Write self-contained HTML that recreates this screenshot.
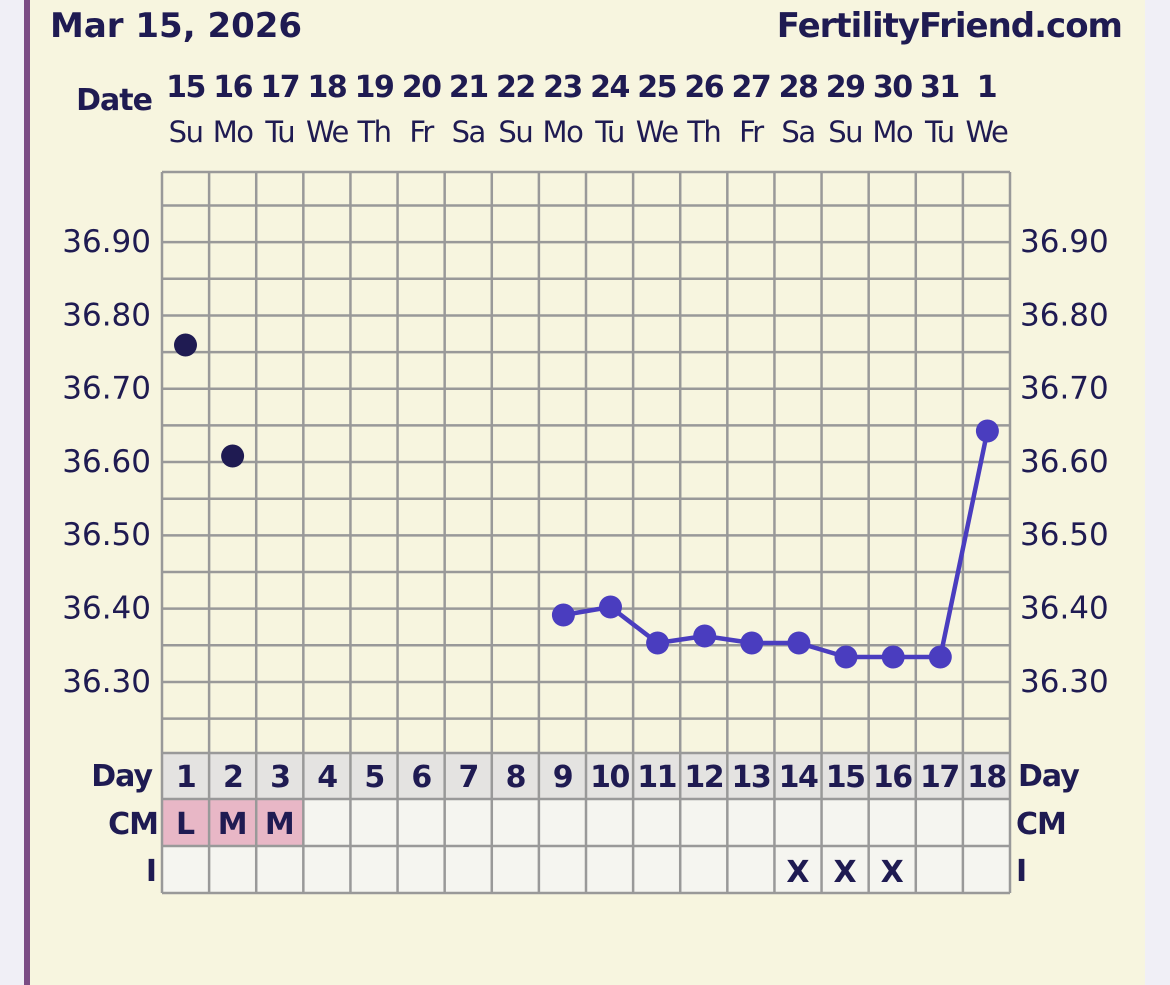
<!DOCTYPE html>
<html><head><meta charset="utf-8"><style>
html,body{margin:0;padding:0;background:#f0eff6;}
svg{display:block}
</style></head><body>
<svg width="1170" height="985" xmlns="http://www.w3.org/2000/svg" font-family="'DejaVu Sans','Liberation Sans',sans-serif">
<rect x="0" y="0" width="1170" height="985" fill="#f0eff6"/>
<rect x="29" y="0" width="1116" height="985" fill="#f7f5df"/>
<rect x="24" y="0" width="6" height="985" fill="#7b4c84"/>
<text x="50" y="37" font-size="34" font-weight="bold" fill="#1f1b52">Mar 15, 2026</text>
<text x="1122" y="37" font-size="34" font-weight="bold" fill="#1f1b52" text-anchor="end" letter-spacing="-1">FertilityFriend.com</text>
<text x="152" y="110" font-size="30" font-weight="bold" fill="#1f1b52" text-anchor="end" letter-spacing="-1">Date</text>
<g id="cols"></g>
<rect x="162" y="753" width="848" height="46" fill="#e4e3e1"/>
<rect x="162" y="799" width="848" height="94" fill="#f5f5f0"/>
<rect x="162" y="799" width="141" height="47" fill="#e8b7c6"/>
<g stroke="#999" stroke-width="2.5" fill="none" id="grid"></g>
<polyline points="563.4,615 610.5,607 657.6,643 704.7,636 751.8,643 798.9,643 846,657 893.2,657 940.3,657 987.4,431" fill="none" stroke="#4a3dbf" stroke-width="4.5" stroke-linejoin="round"/>
<g fill="#4a3dbf">
<circle cx="563.4" cy="615" r="11.5"/><circle cx="610.5" cy="607" r="11.5"/><circle cx="657.6" cy="643" r="11.5"/><circle cx="704.7" cy="636" r="11.5"/><circle cx="751.8" cy="643" r="11.5"/><circle cx="798.9" cy="643" r="11.5"/><circle cx="846" cy="657" r="11.5"/><circle cx="893.2" cy="657" r="11.5"/><circle cx="940.3" cy="657" r="11.5"/><circle cx="987.4" cy="431" r="11.5"/>
</g>
<circle cx="185.5" cy="345" r="11.5" fill="#1f1b52"/>
<circle cx="232.6" cy="456" r="11.5" fill="#1f1b52"/>
<g font-size="31" fill="#1f1b52" id="ylab"></g>
<g font-size="30" font-weight="bold" fill="#1f1b52" letter-spacing="-1">
<text x="152" y="786" text-anchor="end">Day</text>
<text x="158" y="834" text-anchor="end">CM</text>
<text x="156" y="881" text-anchor="end">I</text>
<text x="1018" y="786">Day</text>
<text x="1016" y="834">CM</text>
<text x="1016" y="881">I</text>
</g>
<g id="rows" font-size="30" font-weight="bold" fill="#1f1b52" text-anchor="middle"></g>
</svg>
<script>
var ns="http://www.w3.org/2000/svg",L=162,R=1010,W=(R-L)/18;
function el(p,t,a,txt){var e=document.createElementNS(ns,t);for(var k in a)e.setAttribute(k,a[k]);if(txt!=null)e.textContent=txt;p.appendChild(e);return e;}
var g=document.getElementById('grid');
for(var i=0;i<=18;i++){var x=L+i*W;el(g,'line',{x1:x,y1:172,x2:x,y2:893});}
el(g,'line',{x1:L,y1:172,x2:R,y2:172});
for(var k=0;k<16;k++){var y=205.5+k*36.65;if(y<752)el(g,'line',{x1:L,y1:y,x2:R,y2:y});}
[753,799,846,893].forEach(function(y){el(g,'line',{x1:L,y1:y,x2:R,y2:y});});
var yl=document.getElementById('ylab');
["36.90","36.80","36.70","36.60","36.50","36.40","36.30"].forEach(function(s,i){var y=242+i*73.3+10;el(yl,'text',{x:151,y:y,'text-anchor':'end'},s);el(yl,'text',{x:1020,y:y},s);});
var c=document.getElementById('cols');
var d=[15,16,17,18,19,20,21,22,23,24,25,26,27,28,29,30,31,1],w=["Su","Mo","Tu","We","Th","Fr","Sa","Su","Mo","Tu","We","Th","Fr","Sa","Su","Mo","Tu","We"];
var r=document.getElementById('rows');
for(var i=0;i<18;i++){var x=L+(i+0.5)*W;
el(c,'text',{x:x,y:97,'text-anchor':'middle','font-size':30,'font-weight':'bold',fill:'#1f1b52','letter-spacing':'-1.5'},d[i]);
el(c,'text',{x:x,y:142,'text-anchor':'middle','font-size':29,fill:'#1f1b52','letter-spacing':'-1.5'},w[i]);
el(r,'text',{x:x,y:787,'letter-spacing':'-1.5'},i+1);}
[["L",0],["M",1],["M",2]].forEach(function(a){el(r,'text',{x:L+(a[1]+0.5)*W,y:834},a[0]);});
[13,14,15].forEach(function(i){el(r,'text',{x:L+(i+0.5)*W,y:882},"X");});
</script>
</body></html>
